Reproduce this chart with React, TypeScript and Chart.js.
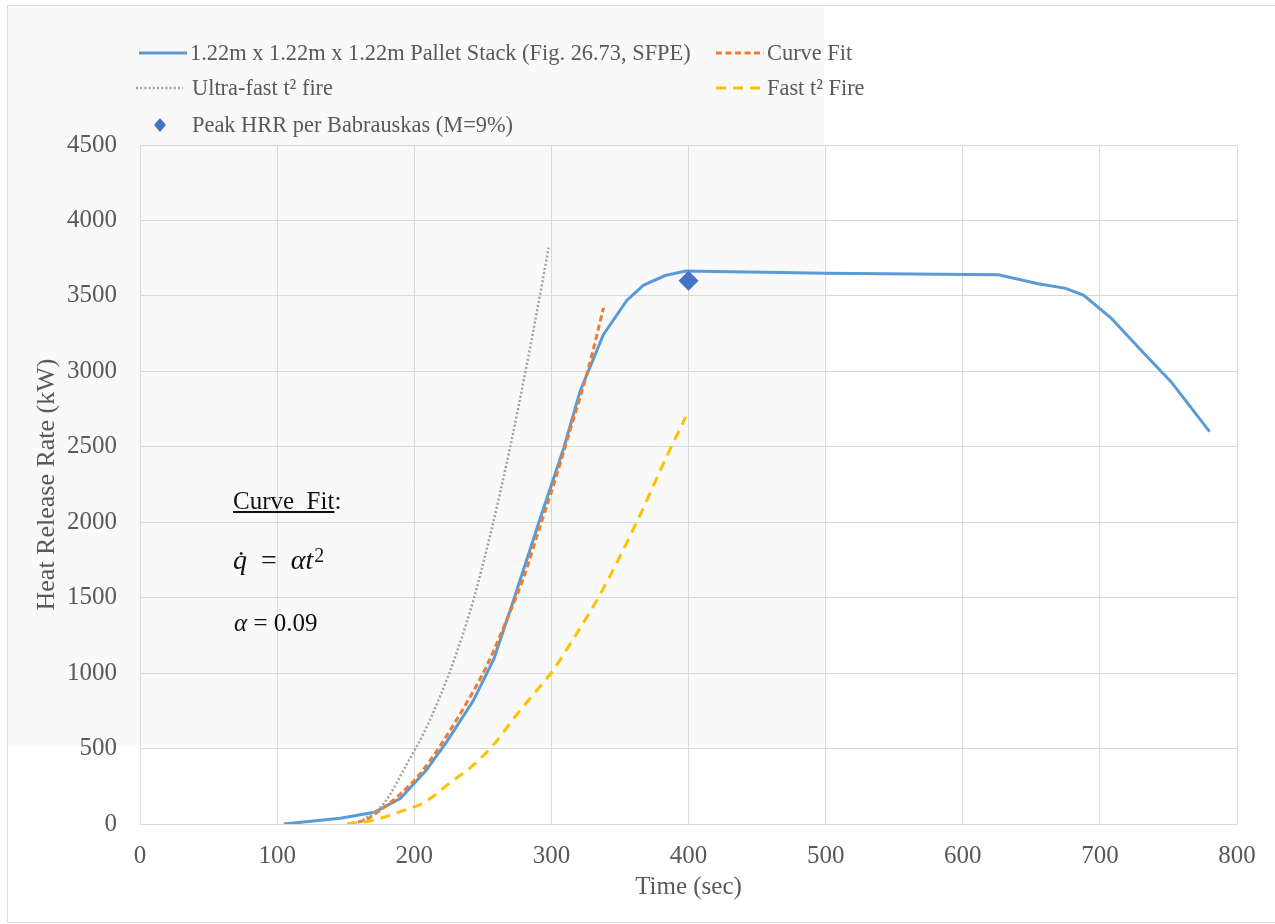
import React, { useEffect, useRef } from "react";
import { Chart, registerables } from "chart.js";

Chart.register(...registerables);

// ---- data ----
const palletTime = [105, 146, 171, 190, 209, 224, 243, 258, 272, 292, 309, 321, 338, 355, 367, 383, 398, 500, 626, 655, 675, 688, 708, 729, 752, 780];
const palletHRR = [0, 38, 78, 171, 360, 549, 816, 1093, 1471, 2030, 2490, 2870, 3245, 3470, 3570, 3635, 3665, 3650, 3640, 3580, 3550, 3505, 3355, 3150, 2930, 2600];

const fitTime = [152, 165, 175, 190, 204, 219, 238, 253, 265, 280, 292, 300, 314, 327, 338];
const fitHRR = [0, 30, 90, 200, 330, 520, 800, 1050, 1300, 1640, 1980, 2200, 2620, 3020, 3420];

const ultraTime = [160, 178, 195, 207, 219, 231, 243, 255, 270, 282, 292, 298];
const ultraHRR = [10, 138, 404, 604, 849, 1138, 1480, 1900, 2500, 3040, 3520, 3820];

const fastTime = [151, 170, 192, 207, 226, 243, 258, 274, 291, 301, 319, 335, 362, 384, 398];
const fastHRR = [0, 25, 89, 142, 272, 390, 527, 716, 904, 1016, 1271, 1513, 1996, 2434, 2698];

const peakTime = [400];
const peakHRR = [3600];

const xMin = 0, xMax = 800, xStep = 100;
const yMin = 0, yMax = 4500, yStep = 500;

const seriesNames = [
  "1.22m x 1.22m x 1.22m Pallet Stack (Fig. 26.73, SFPE)",
  "Curve Fit",
  "Ultra-fast t\u00B2 fire",
  "Fast t\u00B2 Fire",
  "Peak HRR per Babrauskas (M=9%)",
];

const SERIF = '"Liberation Serif", "Times New Roman", serif';
const AXIS_GREY = "#595959";
const GRID = "#d9d9d9";

const pts = (xs: number[], ys: number[]) => xs.map((x, i) => ({ x, y: ys[i] }));

const legendMarks = {
  id: "legendMarks",
  afterDraw(chart: any) {
    const ctx = chart.ctx as CanvasRenderingContext2D;
    const ds = chart.data.datasets;
    const line = (i: number, x1: number, x2: number, y: number) => {
      const d = ds[i];
      ctx.save();
      ctx.strokeStyle = d.borderColor;
      ctx.lineWidth = d.borderWidth;
      ctx.setLineDash(d.borderDash || []);
      ctx.lineCap = "butt";
      ctx.beginPath();
      ctx.moveTo(x1, y);
      ctx.lineTo(x2, y);
      ctx.stroke();
      ctx.restore();
    };
    line(0, 139, 187, 53);
    line(1, 716, 764, 53);
    line(2, 136, 183, 88);
    line(3, 716, 764, 88);
    const cx = 160, cy = 125, rx = 6, ry = 7;
    ctx.save();
    ctx.fillStyle = ds[4].backgroundColor;
    ctx.beginPath();
    ctx.moveTo(cx, cy - ry);
    ctx.lineTo(cx + rx, cy);
    ctx.lineTo(cx, cy + ry);
    ctx.lineTo(cx - rx, cy);
    ctx.closePath();
    ctx.fill();
    ctx.restore();
  },
};

export default function App() {
  const ref = useRef<HTMLCanvasElement | null>(null);

  useEffect(() => {
    if (!ref.current) return;
    const chart = new Chart(ref.current, {
      type: "scatter",
      data: {
        datasets: [
          {
            label: seriesNames[0],
            data: pts(palletTime, palletHRR),
            showLine: true,
            borderColor: "#5b9bd5",
            backgroundColor: "#5b9bd5",
            borderWidth: 3,
            pointRadius: 0,
            tension: 0,
            order: 4,
          },
          {
            label: seriesNames[1],
            data: pts(fitTime, fitHRR),
            showLine: true,
            borderColor: "#ed7d31",
            backgroundColor: "#ed7d31",
            borderWidth: 3,
            borderDash: [6, 3.5],
            pointRadius: 0,
            cubicInterpolationMode: "monotone",
            order: 3,
          },
          {
            label: seriesNames[2],
            data: pts(ultraTime, ultraHRR),
            showLine: true,
            borderColor: "#a8a0a0",
            backgroundColor: "#a8a0a0",
            borderWidth: 2.5,
            borderDash: [2, 2.2],
            pointRadius: 0,
            cubicInterpolationMode: "monotone",
            order: 2,
          },
          {
            label: seriesNames[3],
            data: pts(fastTime, fastHRR),
            showLine: true,
            borderColor: "#ffc000",
            backgroundColor: "#ffc000",
            borderWidth: 3,
            borderDash: [10, 7],
            pointRadius: 0,
            cubicInterpolationMode: "monotone",
            order: 1,
          },
          {
            label: seriesNames[4],
            data: pts(peakTime, peakHRR),
            showLine: false,
            borderColor: "#4472c4",
            backgroundColor: "#4472c4",
            pointStyle: "rectRot",
            pointRadius: 10,
            borderWidth: 0,
            order: 0,
          },
        ],
      },
      options: {
        animation: false,
        responsive: false,
        events: [],
        layout: { padding: { top: 145, right: 38, left: 0, bottom: 0 } },
        plugins: {
          legend: { display: false },
          tooltip: { enabled: false },
        },
        scales: {
          x: {
            type: "linear",
            min: xMin,
            max: xMax,
            ticks: {
              stepSize: xStep,
              color: AXIS_GREY,
              font: { family: SERIF, size: 25 },
              padding: 17,
              callback: (v: any) => String(v),
            },
            grid: { color: GRID, drawTicks: false, lineWidth: 1 },
            border: { color: GRID },
            title: {
              display: true,
              text: "Time (sec)",
              color: AXIS_GREY,
              font: { family: SERIF, size: 25 },
              padding: { top: 0, bottom: 22 },
            },
            afterFit: (s: any) => {
              s.height = 100;
            },
          },
          y: {
            type: "linear",
            min: yMin,
            max: yMax,
            ticks: {
              stepSize: yStep,
              color: AXIS_GREY,
              font: { family: SERIF, size: 25 },
              padding: 23,
              callback: (v: any) => String(v),
            },
            grid: { color: GRID, drawTicks: false, lineWidth: 1 },
            border: { color: GRID },
            title: {
              display: true,
              text: "Heat Release Rate (kW)",
              color: AXIS_GREY,
              font: { family: SERIF, size: 26 },
              padding: { top: 32, bottom: 0 },
            },
            afterFit: (s: any) => {
              s.width = 140;
            },
          },
        },
      },
      plugins: [legendMarks],
    } as any);
    return () => chart.destroy();
  }, []);

  const legendText: React.CSSProperties = {
    position: "absolute",
    fontFamily: SERIF,
    fontSize: 22.4,
    lineHeight: "26px",
    color: AXIS_GREY,
    whiteSpace: "nowrap",
  };
  const noteText: React.CSSProperties = {
    position: "absolute",
    fontFamily: SERIF,
    color: "#111",
    whiteSpace: "nowrap",
  };

  return (
    <div style={{ position: "absolute", left: 0, top: 0, width: 1275, height: 924, background: "#fff", overflow: "hidden" }}>
      <div style={{ position: "absolute", left: 7, top: 5, width: 817, height: 740, background: "#f9f9f9" }} />
      <div
        style={{
          position: "absolute",
          left: 7,
          top: 5,
          width: 1280,
          height: 916,
          borderTop: "1.5px solid #dcdcdc",
          borderLeft: "1.5px solid #dcdcdc",
          borderBottom: "1.5px solid #dcdcdc",
        }}
      />
      <canvas ref={ref} width={1275} height={924} style={{ position: "absolute", left: 0, top: 0, width: 1275, height: 924 }} />
      <div style={{ ...legendText, left: 190, top: 40 }}>{seriesNames[0]}</div>
      <div style={{ ...legendText, left: 767, top: 40 }}>{seriesNames[1]}</div>
      <div style={{ ...legendText, left: 192, top: 75 }}>{seriesNames[2]}</div>
      <div style={{ ...legendText, left: 767, top: 75 }}>{seriesNames[3]}</div>
      <div style={{ ...legendText, left: 192, top: 112 }}>{seriesNames[4]}</div>

      <div style={{ ...noteText, left: 233, top: 487, fontSize: 25, lineHeight: "28px" }}>
        <span style={{ textDecoration: "underline" }}>Curve&nbsp; Fit</span>:
      </div>
      <div style={{ ...noteText, left: 233, top: 545, fontSize: 28, lineHeight: "30px" }}>
        <i>q{"\u0307"}</i>&nbsp;&nbsp;=&nbsp;&nbsp;<i>{"\u03B1"}t</i>
        <sup style={{ fontSize: 20, verticalAlign: "top", position: "relative", top: -5, marginLeft: 1 }}>2</sup>
      </div>
      <div style={{ ...noteText, left: 234, top: 609, fontSize: 25, lineHeight: "28px" }}>
        <i>{"\u03B1"}</i>{" = 0.09"}
      </div>
    </div>
  );
}
